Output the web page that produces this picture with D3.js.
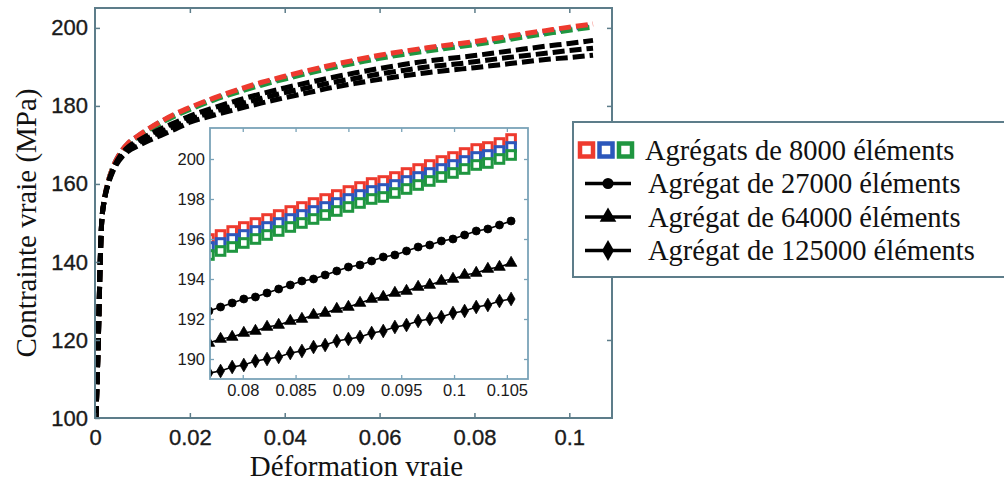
<!DOCTYPE html>
<html><head><meta charset="utf-8">
<script src="https://cdn.jsdelivr.net/npm/d3@7"></script>
<style>body{margin:0;background:#fff} svg{display:block}</style>
</head><body><svg id="c" width="1004" height="483"></svg>
<script>
// ---------- DATA ----------
const mainX = [0.0002,0.0007,0.0011,0.0014,0.002,0.0028,0.0037,0.0046,0.0058,0.007,0.009,0.0115,0.014,0.017,0.02,0.025,0.03,0.035,0.04,0.045,0.05,0.055,0.06,0.065,0.07,0.075,0.08,0.085,0.09,0.095,0.1,0.105];
const mainRed8000   = [100,120,140,150,156.2,160.7,164.0,166.4,168.8,170.5,172.3,174.3,176.1,178.0,179.6,182.0,184.1,186.0,187.6,189.1,190.5,191.8,193.0,194.0,194.9,195.7,196.5,197.4,198.4,199.3,200.2,201.0];
const mainBlue8000  = [100,120,140,150,156.2,160.7,164.0,166.4,168.8,170.4,172.2,174.2,176.0,177.8,179.4,181.8,183.9,185.7,187.3,188.8,190.2,191.5,192.7,193.7,194.6,195.4,196.1,197.0,198.0,198.9,199.8,200.6];
const mainGreen8000 = [100,120,140,150,156.2,160.7,164.0,166.3,168.6,170.2,172.0,173.9,175.7,177.5,179.1,181.5,183.5,185.3,186.9,188.4,189.8,191.0,192.2,193.2,194.1,194.9,195.7,196.6,197.6,198.5,199.4,200.2];
const main27000  = [100,120,140,150,156.0,160.3,163.5,165.8,168.0,169.5,171.0,172.7,174.2,175.8,177.4,179.5,181.4,183.1,184.6,186.0,187.3,188.5,189.6,190.6,191.5,192.2,192.9,193.7,194.5,195.3,196.0,196.8];
const main64000  = [100,120,140,150,156.0,160.2,163.3,165.5,167.6,169.0,170.4,172.0,173.4,174.9,176.5,178.5,180.3,181.9,183.4,184.7,186.0,187.1,188.2,189.1,190.0,190.6,191.3,192.1,192.8,193.5,194.2,194.8];
const main125000 = [100,120,140,150,155.9,160.0,163.0,165.1,167.1,168.4,169.7,171.2,172.5,174.1,175.8,177.6,179.2,180.7,182.1,183.4,184.7,185.8,186.8,187.7,188.5,189.2,189.8,190.5,191.2,191.9,192.4,193.0];

const insetX = [0.0768,0.0779,0.0790,0.0801,0.0812,0.0823,0.0834,0.0845,0.0856,0.0867,0.0878,0.0889,0.0900,0.0911,0.0922,0.0933,0.0944,0.0955,0.0966,0.0977,0.0988,0.0999,0.1010,0.1021,0.1032,0.1043,0.1054];
const insetRed8000   = [196.0,196.2,196.4,196.6,196.8,197.0,197.2,197.4,197.6,197.8,198.0,198.2,198.4,198.6,198.8,198.9,199.1,199.3,199.5,199.7,199.9,200.1,200.3,200.5,200.6,200.8,201.0];
const insetBlue8000  = [195.6,195.8,196.0,196.2,196.4,196.6,196.8,197.0,197.2,197.4,197.6,197.8,198.0,198.2,198.4,198.5,198.7,198.9,199.1,199.3,199.5,199.7,199.9,200.1,200.2,200.4,200.6];
const insetGreen8000 = [195.2,195.4,195.6,195.8,196.0,196.2,196.4,196.6,196.8,197.0,197.2,197.4,197.6,197.8,198.0,198.1,198.3,198.5,198.7,198.9,199.1,199.3,199.5,199.7,199.8,200.0,200.2];
const inset27000  = [192.4,192.6,192.8,193.0,193.1,193.3,193.5,193.7,193.9,194.0,194.2,194.4,194.6,194.7,194.9,195.1,195.2,195.4,195.6,195.7,195.9,196.0,196.2,196.4,196.5,196.7,196.9];
const inset64000  = [190.8,191.0,191.1,191.3,191.4,191.6,191.7,191.9,192.0,192.2,192.3,192.5,192.6,192.8,193.0,193.1,193.3,193.4,193.6,193.7,193.9,194.0,194.2,194.3,194.5,194.6,194.8];
const inset125000 = [189.3,189.4,189.6,189.7,189.9,190.0,190.1,190.3,190.4,190.6,190.7,190.9,191.0,191.1,191.3,191.4,191.6,191.7,191.9,192.0,192.1,192.3,192.4,192.6,192.7,192.9,193.0];

const mainXTicks = [0,0.02,0.04,0.06,0.08,0.1];
const mainYTicks = [100,120,140,160,180,200];
const insetXTicks = [0.08,0.085,0.09,0.095,0.1,0.105];
const insetYTicks = [190,192,194,196,198,200];
const legendLabels = ["Agrégats de 8000 éléments","Agrégat de 27000 éléments","Agrégat de 64000 éléments","Agrégat de 125000 éléments"];
const xTitle = "Déformation vraie";
const yTitle = "Contrainte vraie (MPa)";

// ---------- STYLE ----------
const RED="#ee3a2e", BLUE="#2c57bb", GREEN="#1f9640", BLK="#000";
const FRAME="#5d7d8a", IFRAME="#7aa3b8";
const SANS="'Liberation Sans', Arial, sans-serif", SERIF="'Liberation Serif', 'Times New Roman', serif";

const svg = d3.select("#c");
const M = {l:95, r:612, t:8, b:418};
const x = d3.scaleLinear().domain([0,0.109]).range([M.l,M.r]);
const y = d3.scaleLinear().domain([100,205.1]).range([M.b,M.t]);

svg.append("defs").append("clipPath").attr("id","mclip")
  .append("rect").attr("x",M.l).attr("y",M.t).attr("width",M.r-M.l).attr("height",M.b-M.t);

// main curves
const line = d3.line().x((d,i)=>x(mainX[i])).y(d=>y(d)).curve(d3.curveMonotoneX);
const gMain = svg.append("g").attr("clip-path","url(#mclip)");
[[mainBlue8000,BLUE],[mainGreen8000,GREEN],[mainRed8000,RED],[main125000,BLK],[main64000,BLK],[main27000,BLK]].forEach(([s,c])=>{
  gMain.append("path").attr("d",line(s)).attr("fill","none").attr("stroke",c)
    .attr("stroke-width",5).attr("stroke-dasharray","12,5");
});

// main axes
function styleAxis(g,size){
  g.select(".domain").remove();
  g.selectAll(".tick line").attr("stroke",FRAME).attr("stroke-width",1.5);
  g.selectAll(".tick text").attr("font-family",SANS).attr("font-size",size).attr("fill","#1a1a1a")
    .attr("stroke","#1a1a1a").attr("stroke-width",0.35);
}
svg.append("g").attr("transform",`translate(0,${M.b})`)
  .call(d3.axisBottom(x).tickValues(mainXTicks).tickSize(-5).tickPadding(11).tickFormat(d=>String(d)))
  .call(g=>styleAxis(g,22));
svg.append("g").attr("transform",`translate(${M.l},0)`)
  .call(d3.axisLeft(y).tickValues(mainYTicks).tickSize(-5).tickPadding(7).tickFormat(d=>String(d)))
  .call(g=>styleAxis(g,22));
svg.append("g").attr("transform",`translate(0,${M.t})`)
  .call(d3.axisTop(x).tickValues(mainXTicks.slice(1)).tickSize(-5).tickFormat(""))
  .call(g=>styleAxis(g,22));
svg.append("g").attr("transform",`translate(${M.r},0)`)
  .call(d3.axisRight(y).tickValues(mainYTicks.slice(1)).tickSize(-5).tickFormat(""))
  .call(g=>styleAxis(g,22));
svg.append("rect").attr("x",M.l).attr("y",M.t).attr("width",M.r-M.l).attr("height",M.b-M.t)
  .attr("fill","none").attr("stroke",FRAME).attr("stroke-width",2);

svg.append("text").attr("x",(M.l+M.r)/2+3).attr("y",476).attr("text-anchor","middle")
  .attr("font-family",SERIF).attr("font-size",29).attr("fill","#111").text(xTitle);
svg.append("text").attr("transform","translate(36,223) rotate(-90)").attr("text-anchor","middle")
  .attr("font-family",SERIF).attr("font-size",29).attr("fill","#111").text(yTitle);

// ---------- INSET ----------
const I = {l:210, r:528, t:128, b:379};
const ix = d3.scaleLinear().domain([0.0769,0.107]).range([I.l,I.r]);
const iy = d3.scaleLinear().domain([189,201.55]).range([I.b,I.t]);
svg.append("rect").attr("x",I.l).attr("y",I.t).attr("width",I.r-I.l).attr("height",I.b-I.t).attr("fill","#fff");
svg.select("defs").append("clipPath").attr("id","iclip")
  .append("rect").attr("x",I.l).attr("y",I.t).attr("width",I.r-I.l).attr("height",I.b-I.t);
const gI = svg.append("g").attr("clip-path","url(#iclip)");

const iline = d3.line().x((d,i)=>ix(insetX[i])).y(d=>iy(d));
[inset27000,inset64000,inset125000].forEach(s=>{
  gI.append("path").attr("d",iline(s)).attr("fill","none").attr("stroke",BLK).attr("stroke-width",1.6);
});
[[insetRed8000,RED],[insetBlue8000,BLUE],[insetGreen8000,GREEN]].forEach(([s,c])=>{
  gI.selectAll(null).data(s).join("rect")
    .attr("x",(d,i)=>ix(insetX[i])-4.3).attr("y",d=>iy(d)-4.3).attr("width",8.6).attr("height",8.6)
    .attr("fill","#fff").attr("stroke",c).attr("stroke-width",3);
});
const sym = {
  circle: d3.symbol().type(d3.symbolCircle).size(50),
  triangle: d3.symbol().type(d3.symbolTriangle).size(58),
  diamond: d3.symbol().type(d3.symbolDiamond).size(54)
};
[[inset27000,"circle"],[inset64000,"triangle"],[inset125000,"diamond"]].forEach(([s,t])=>{
  gI.selectAll(null).data(s).join("path")
    .attr("transform",(d,i)=>`translate(${ix(insetX[i])},${iy(d)})`)
    .attr("d",sym[t]()).attr("fill",BLK).attr("stroke",BLK).attr("stroke-width",0.8);
});

function styleI(g){
  g.select(".domain").remove();
  g.selectAll(".tick line").attr("stroke",IFRAME).attr("stroke-width",1.3);
  g.selectAll(".tick text").attr("font-family",SANS).attr("font-size",16.5).attr("fill","#1a1a1a");
}
svg.append("g").attr("transform",`translate(0,${I.b})`)
  .call(d3.axisBottom(ix).tickValues(insetXTicks).tickSize(-4).tickPadding(5).tickFormat(d=>String(d))).call(styleI);
svg.append("g").attr("transform",`translate(${I.l},0)`)
  .call(d3.axisLeft(iy).tickValues(insetYTicks).tickSize(-4).tickPadding(5).tickFormat(d=>String(d))).call(styleI);
svg.append("g").attr("transform",`translate(0,${I.t})`)
  .call(d3.axisTop(ix).tickValues(insetXTicks).tickSize(-4).tickFormat("")).call(styleI);
svg.append("g").attr("transform",`translate(${I.r},0)`)
  .call(d3.axisRight(iy).tickValues(insetYTicks).tickSize(-4).tickFormat("")).call(styleI);
svg.append("rect").attr("x",I.l).attr("y",I.t).attr("width",I.r-I.l).attr("height",I.b-I.t)
  .attr("fill","none").attr("stroke",IFRAME).attr("stroke-width",1.8);

// ---------- LEGEND ----------
const L = {x:573, y:122, w:445, h:155};
svg.append("rect").attr("x",L.x).attr("y",L.y).attr("width",L.w).attr("height",L.h)
  .attr("fill","#fff").attr("stroke",FRAME).attr("stroke-width",2);
const rowY = [150,183.5,217,250.5];
const gL = svg.append("g");
[RED,BLUE,GREEN].forEach((c,k)=>{
  gL.append("rect").attr("x",580+k*19.5).attr("y",rowY[0]-6.5).attr("width",13).attr("height",13)
    .attr("fill","#fff").attr("stroke",c).attr("stroke-width",4.5);
});
["circle","triangle","diamond"].forEach((t,k)=>{
  const yy = rowY[k+1];
  gL.append("line").attr("x1",585).attr("x2",631).attr("y1",yy).attr("y2",yy).attr("stroke",BLK).attr("stroke-width",3.5);
  const sz = t==="circle"?95:(t==="triangle"?120:125);
  gL.append("path").attr("transform",`translate(608,${yy})`)
    .attr("d",d3.symbol().type(t==="circle"?d3.symbolCircle:(t==="triangle"?d3.symbolTriangle:d3.symbolDiamond)).size(sz)())
    .attr("fill",BLK);
});
legendLabels.forEach((s,k)=>{
  gL.append("text").attr("x",k===0?645:648).attr("y",rowY[k]+9.5).attr("font-family",SERIF)
    .attr("font-size",28.5).attr("fill","#111").text(s);
});
</script></body></html>
